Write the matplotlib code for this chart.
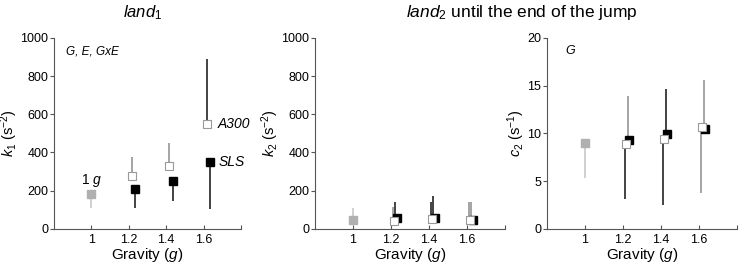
import matplotlib
matplotlib.use("Agg")
import matplotlib.pyplot as plt

plt.rcParams["font.family"] = "Liberation Sans"
plt.rcParams["mathtext.fontset"] = "custom"
plt.rcParams["mathtext.rm"] = "Liberation Sans"
plt.rcParams["mathtext.it"] = "Liberation Sans:italic"

# gravity levels
gravity = [1.2, 1.4, 1.6]
ticks = [1, 1.2, 1.4, 1.6]

# land1: k1 (s^-2)
one_g_k1 = 180
one_g_k1_lo = 110
a300_k1 = [278, 330, 550]
a300_k1_hi = [375, 450, 890]
sls_k1 = [210, 250, 350]
sls_k1_lo = [110, 145, 105]

# land2: k2 (s^-2)
one_g_k2 = 47
one_g_k2_hi = 107
a300_k2 = [42, 51, 45]
a300_k2_hi = [115, 140, 138]
sls_k2 = [55, 55, 45]
sls_k2_hi = [141, 171, 138]

# land2: c2 (s^-1)
one_g_c2 = 8.94
one_g_c2_lo = 5.27
a300_c2 = [8.87, 9.36, 10.62]
a300_c2_lo = [3.08, 2.51, 3.7]
sls_c2 = [9.29, 9.88, 10.5]
sls_c2_hi = [13.93, 14.63, 15.57]

# style
GRAY = "#8c8c8c"
LIGHT = "#c4c4c4"
SQ = "#b0b0b0"
BLK = "#111111"
OFF_A = 0.017
OFF_S = 0.035
MS = 6


def setup(ax, ylim, yticks, ylabel):
    ax.set_xlim(0.8, 1.8)
    ax.set_ylim(*ylim)
    ax.set_yticks(yticks)
    ax.set_xticks(ticks + [1.8])
    ax.set_xticklabels([str(t) for t in ticks] + [""])
    for s in ["top", "right"]:
        ax.spines[s].set_visible(False)
    for s in ["left", "bottom"]:
        ax.spines[s].set_color("#555555")
        ax.spines[s].set_linewidth(0.8)
    ax.tick_params(axis="x", direction="in", length=3, color="#555555",
                   labelsize=9, pad=4)
    ax.tick_params(axis="y", direction="out", length=3, color="#555555",
                   labelsize=9, pad=1)
    ax.set_xlabel("Gravity ($\\it{g}$)", fontsize=11, labelpad=0)
    ax.set_ylabel(ylabel, fontsize=10.5, labelpad=0)


def squares(ax, one_g, a300, sls):
    ax.plot([1.0], [one_g], "s", ms=MS, mfc=SQ, mec=SQ, zorder=3)
    ax.plot([g + OFF_S for g in gravity], sls, "s", ms=MS,
            mfc="black", mec="black", zorder=3)
    ax.plot([g + OFF_A for g in gravity], a300, "s", ms=MS,
            mfc="white", mec="#999999", mew=0.8, zorder=4)


def bars(ax, x, y0, y1, cols, off):
    for g, a, b, c in zip(x, y0, y1, cols):
        ax.vlines(g + off, a, b, color=c, lw=1.1, zorder=2)


fig = plt.figure(figsize=(7.39, 2.63), dpi=100)
ax1 = fig.add_axes([0.073, 0.130, 0.253, 0.726])
ax2 = fig.add_axes([0.426, 0.130, 0.257, 0.726])
ax3 = fig.add_axes([0.740, 0.130, 0.257, 0.726])

# panel 1
setup(ax1, (0, 1000), range(0, 1001, 200), "$\\it{k}_{1}$ (s$^{-2}$)")
ax1.vlines(1.0, one_g_k1_lo, one_g_k1, color=LIGHT, lw=1.1)
bars(ax1, gravity, a300_k1, a300_k1_hi, [GRAY, GRAY, BLK], OFF_A)
bars(ax1, gravity, sls_k1_lo, sls_k1, [BLK, BLK, BLK], OFF_S)
squares(ax1, one_g_k1, a300_k1, sls_k1)
ax1.text(1.0, 255, "1 $\\it{g}$", ha="center", va="center", fontsize=10)
ax1.text(1.675, a300_k1[-1], "A300", style="italic", va="center", fontsize=10)
ax1.text(1.68, sls_k1[-1], "SLS", style="italic", va="center", fontsize=10)
ax1.text(0.064, 0.93, "G, E, GxE", style="italic", transform=ax1.transAxes,
         va="center", fontsize=8.5)

# panel 2
setup(ax2, (0, 1000), range(0, 1001, 200), "$\\it{k}_{2}$ (s$^{-2}$)")
ax2.vlines(1.0, one_g_k2, one_g_k2_hi, color=LIGHT, lw=1.1)
bars(ax2, gravity, a300_k2, a300_k2_hi, [GRAY, BLK, GRAY], OFF_A - 0.004)
bars(ax2, gravity, sls_k2, sls_k2_hi, [BLK, BLK, GRAY], OFF_S - 0.012)
squares(ax2, one_g_k2, a300_k2, sls_k2)

# panel 3
setup(ax3, (0, 20), range(0, 21, 5), "$\\it{c}_{2}$ (s$^{-1}$)")
ax3.vlines(1.0, one_g_c2_lo, one_g_c2, color=LIGHT, lw=1.1)
bars(ax3, gravity, a300_c2_lo, a300_c2, [BLK, BLK, GRAY], OFF_A - 0.004)
bars(ax3, gravity, sls_c2, sls_c2_hi, [GRAY, BLK, GRAY], OFF_S - 0.008)
squares(ax3, one_g_c2, a300_c2, sls_c2)
ax3.text(0.095, 0.93, "G", style="italic", transform=ax3.transAxes,
         va="center", fontsize=9)

fig.text(0.193, 0.935, "$\\it{land}_{1}$", ha="center", va="baseline",
         fontsize=12)
fig.text(0.706, 0.935, "$\\it{land}_{2}$ until the end of the jump",
         ha="center", va="baseline", fontsize=12.5)

fig.savefig("out.png", dpi=100)
